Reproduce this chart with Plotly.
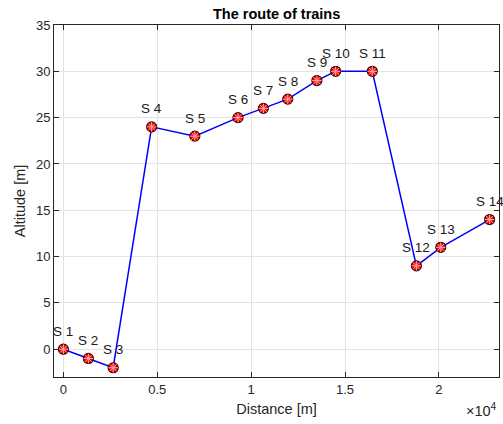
import plotly.graph_objects as go

# Station positions along the line and their altitudes
stations = ["S 1", "S 2", "S 3", "S 4", "S 5", "S 6", "S 7",
            "S 8", "S 9", "S 10", "S 11", "S 12", "S 13", "S 14"]
distance_m = [0, 1330, 2650, 4700, 7000, 9300, 10650,
              11950, 13500, 14500, 16450, 18800, 20100, 22700]
altitude_m = [0, -1, -2, 24, 23, 25, 26, 27, 29, 30, 30, 9, 11, 14]

x_tick_vals = [0, 5000, 10000, 15000, 20000]
x_tick_text = ["0", "0.5", "1", "1.5", "2"]
y_tick_vals = [0, 5, 10, 15, 20, 25, 30, 35]

FONT = "Liberation Sans, Arial, Helvetica, sans-serif"
AX = "#262626"
GRID = "#e3e3e3"

fig = go.Figure()

# route line
fig.add_trace(go.Scatter(
    x=distance_m, y=altitude_m, mode="lines",
    line=dict(color="#0000ff", width=1.5), hoverinfo="skip", showlegend=False))
# station markers: red circles with a dark edge
fig.add_trace(go.Scatter(
    x=distance_m, y=altitude_m, mode="markers",
    marker=dict(symbol="circle", size=10, color="#ff0000",
                line=dict(color="#3a0000", width=1.2)),
    showlegend=False))
# asterisk overlay on each station
fig.add_trace(go.Scatter(
    x=distance_m, y=altitude_m, mode="markers",
    marker=dict(symbol="asterisk-open", size=8, color="#ffb0b0",
                line=dict(color="#ffb0b0", width=1)),
    hoverinfo="skip", showlegend=False))

# station names above the markers
for name, xv, yv in zip(stations, distance_m, altitude_m):
    fig.add_annotation(x=xv, y=yv, text=name, showarrow=False,
                       xanchor="center", yanchor="middle", yshift=18,
                       font=dict(family=FONT, size=13.5, color="#1a1a1a"))

# exponent marker for the x axis
fig.add_annotation(xref="paper", yref="paper", x=1.0, y=-0.095,
                   xanchor="right", yanchor="middle", showarrow=False,
                   text="×10<sup>4</sup>",
                   font=dict(family=FONT, size=14.5, color=AX))

axis_common = dict(
    showline=True, linecolor=AX, linewidth=1, mirror="ticks",
    ticks="inside", ticklen=5, tickcolor=AX,
    showgrid=True, gridcolor=GRID, gridwidth=1, zeroline=False,
    tickfont=dict(family=FONT, size=13, color=AX),
)

fig.update_layout(
    width=503, height=424,
    margin=dict(l=54, r=4, t=25, b=47),
    paper_bgcolor="white", plot_bgcolor="white",
    title=dict(text="<b>The route of trains</b>", x=0.55, xanchor="center",
               y=0.967, yanchor="middle",
               font=dict(family=FONT, size=14.5, color="#000000")),
    xaxis=dict(range=[-500, 23200], tickvals=x_tick_vals, ticktext=x_tick_text,
               title=dict(text="Distance [m]", standoff=8,
                          font=dict(family=FONT, size=14.5, color=AX)),
               **axis_common),
    yaxis=dict(range=[-3, 35], tickvals=y_tick_vals,
               title=dict(text="Altitude [m]", standoff=6,
                          font=dict(family=FONT, size=14.5, color=AX)),
               **axis_common),
)

fig.write_html("out.html")
